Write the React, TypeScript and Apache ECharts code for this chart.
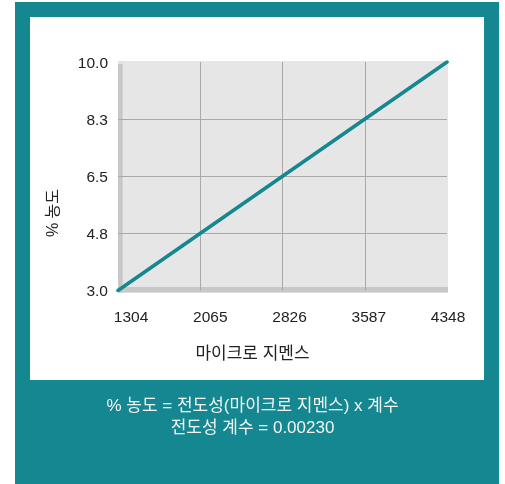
import React, { useEffect, useRef } from "react";
import * as echarts from "echarts";

// Data
const conductivity = [1304, 4348]; // x (마이크로 지멘스)
const concentration = [3.0, 10.0]; // y (% 농도)

const xMin = 1304;
const xMax = 4348;
const xStep = 761;
const yMin = 3;
const yMax = 10;
const yStep = 1.75;

const xAxisTitle = "마이크로 지멘스";
const yAxisTitle = "% 농도";
const noteLines = ["% 농도 = 전도성(마이크로 지멘스) x 계수", "전도성 계수 = 0.00230"];

const FONT = "'Liberation Sans', Arial, 'Noto Sans CJK KR', sans-serif";
const TEAL = "#158790";

export default function App() {
  const ref = useRef<HTMLDivElement>(null);

  useEffect(() => {
    if (!ref.current) return;
    const chart = echarts.init(ref.current, undefined, { renderer: "svg" });
    const seriesData = conductivity.map((x, i) => [x, concentration[i]]);

    chart.setOption({
      animation: false,
      grid: [
        { left: 118, right: 58, top: 62, bottom: 193.5 },
        { left: 131, right: 57, top: 62, bottom: 193.5 },
      ],
      xAxis: [
        {
          gridIndex: 0,
          type: "value",
          min: xMin,
          max: xMax,
          interval: xStep,
          axisLine: { show: false },
          axisTick: { show: false },
          axisLabel: { show: false },
          splitLine: {
            show: true,
            showMinLine: false,
            showMaxLine: false,
            lineStyle: { color: "#a9a9a9", width: 1 },
          },
        },
        {
          gridIndex: 1,
          type: "value",
          min: xMin,
          max: xMax,
          interval: xStep,
          axisLine: { show: false },
          axisTick: { show: false },
          splitLine: { show: false },
          axisLabel: {
            show: true,
            fontSize: 15.5,
            color: "#222",
            fontFamily: FONT,
            margin: 18,
            formatter: (v: number) => String(v),
          },
        },
      ],
      yAxis: [
        {
          gridIndex: 0,
          type: "value",
          min: yMin,
          max: yMax,
          interval: yStep,
          axisLine: { show: false },
          axisTick: { show: false },
          axisLabel: {
            fontSize: 15.5,
            color: "#222",
            fontFamily: FONT,
            margin: 10,
            formatter: (v: number) => v.toFixed(1),
          },
          splitLine: {
            show: true,
            showMinLine: false,
            showMaxLine: false,
            lineStyle: { color: "#a9a9a9", width: 1 },
          },
        },
        {
          gridIndex: 1,
          type: "value",
          min: yMin,
          max: yMax,
          show: false,
        },
      ],
      series: [
        {
          type: "line",
          xAxisIndex: 0,
          yAxisIndex: 0,
          data: seriesData,
          symbol: "none",
          lineStyle: { color: TEAL, width: 3.6, cap: "round" },
          z: 3,
        },
      ],
      graphic: {
        elements: [
          { type: "rect", z: -10, shape: { x: 15, y: 2, width: 484, height: 482 }, style: { fill: TEAL } },
          { type: "rect", z: -9, shape: { x: 30, y: 17, width: 454, height: 363 }, style: { fill: "#ffffff" } },
          { type: "rect", z: -8, shape: { x: 118, y: 61, width: 330, height: 231.5 }, style: { fill: "#e6e6e6" } },
          { type: "rect", z: -7, shape: { x: 118, y: 61, width: 4.7, height: 231.5 }, style: { fill: "#c8c8c8" } },
          { type: "rect", z: -7, shape: { x: 118, y: 61, width: 4.7, height: 3 }, style: { fill: "#e2e2e2" } },
          { type: "rect", z: -7, shape: { x: 118, y: 287, width: 330, height: 5.5 }, style: { fill: "#c8c8c8" } },
          {
            type: "text",
            z: 5,
            x: 252.5,
            y: 353,
            style: {
              text: xAxisTitle,
              fill: "#222",
              font: `17px ${FONT}`,
              align: "center",
              verticalAlign: "middle",
            },
          },
          {
            type: "text",
            z: 5,
            x: 52,
            y: 213,
            rotation: Math.PI / 2,
            style: {
              text: yAxisTitle,
              fill: "#222",
              font: `16px ${FONT}`,
              align: "center",
              verticalAlign: "middle",
            },
          },
          {
            type: "text",
            z: 5,
            x: 252.5,
            y: 405.5,
            style: {
              text: noteLines[0],
              fill: "#f4f4f4",
              font: `17px ${FONT}`,
              align: "center",
              verticalAlign: "middle",
            },
          },
          {
            type: "text",
            z: 5,
            x: 252.5,
            y: 427.5,
            style: {
              text: noteLines[1],
              fill: "#f4f4f4",
              font: `17px ${FONT}`,
              align: "center",
              verticalAlign: "middle",
            },
          },
        ],
      },
    });

    return () => chart.dispose();
  }, []);

  return (
    <div
      ref={ref}
      style={{ position: "fixed", left: 0, top: 0, width: 505, height: 484 }}
    />
  );
}
